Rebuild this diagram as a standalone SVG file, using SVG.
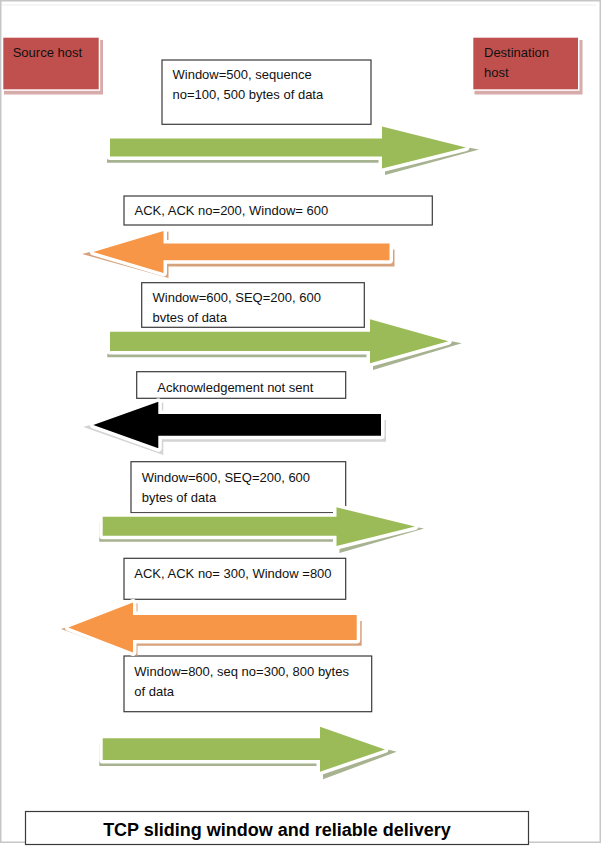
<svg xmlns="http://www.w3.org/2000/svg" width="602" height="846" viewBox="0 0 602 846">
<style>
.t{font-family:"Liberation Sans",Arial,sans-serif;font-size:13px;fill:#111}
.title{font-family:"Liberation Sans",Arial,sans-serif;font-size:18px;font-weight:bold;fill:#000}
.box{fill:#fff;stroke:#3a3a3a;stroke-width:1.2}
.host{fill:#c0504d;stroke:#fff;stroke-width:3;paint-order:stroke}
.hostsh{fill:#d6abaa}
.g{fill:#9bbb59;stroke:#fff;stroke-width:7;paint-order:stroke;stroke-linejoin:round}
.gsh{fill:#a6b290}
.o{fill:#f79646;stroke:#fff;stroke-width:7;paint-order:stroke;stroke-linejoin:round}
.osh{fill:#d6a27c}
.k{fill:#000;stroke:#fff;stroke-width:7;paint-order:stroke;stroke-linejoin:round}
.ksh{fill:#d4d4d4}
</style>
<rect width="602" height="846" fill="#fff"/>
<rect x="0.75" y="0.75" width="599.5" height="841.5" fill="none" stroke="#c6c6c6" stroke-width="1.5"/>
<line x1="1.5" y1="5" x2="596" y2="5" stroke="#ededed" stroke-width="1"/>

<g id="source-host">
<rect class="hostsh" x="4" y="40" width="99" height="54.5"/>
<rect class="host" x="3.3" y="37.7" width="95.4" height="51.6"/>
<text class="t" x="12.7" y="56.5">Source host</text>
</g>
<g id="destination-host">
<rect class="hostsh" x="474.5" y="40" width="108" height="54.5"/>
<rect class="host" x="473.3" y="37.7" width="104.7" height="51.6"/>
<text class="t" x="484" y="56.5">Destination</text>
<text class="t" x="484" y="76.5">host</text>
</g>

<g id="label-1">
<rect class="box" x="162" y="60" width="209" height="64.3"/>
<text class="t" x="172.5" y="79.3">Window=500, sequence</text>
<text class="t" x="172.5" y="99.3">no=100, 500 bytes of data</text>
</g>
<g id="label-2">
<rect class="box" x="124" y="196" width="308.3" height="29"/>
<text class="t" x="134.5" y="215">ACK, ACK no=200, Window= 600</text>
</g>
<g id="label-3">
<rect class="box" x="141.7" y="282.7" width="222.6" height="44.6"/>
<text class="t" x="152.5" y="302.2">Window=600, SEQ=200, 600</text>
<text class="t" x="152.5" y="322.2">bvtes of data</text>
</g>
<g id="label-4">
<rect class="box" x="136.7" y="371.7" width="209" height="26.6"/>
<text class="t" x="157.3" y="391.5">Acknowledgement not sent</text>
</g>
<g id="label-5">
<rect class="box" x="131" y="461.7" width="214.7" height="51"/>
<text class="t" x="141.7" y="481.6">Window=600, SEQ=200, 600</text>
<text class="t" x="141.7" y="501.6">bytes of data</text>
</g>
<g id="label-6">
<rect class="box" x="124" y="558.3" width="221.7" height="41"/>
<text class="t" x="134.3" y="578">ACK, ACK no= 300, Window =800</text>
</g>
<g id="label-7">
<rect class="box" x="124" y="656" width="247.7" height="55.7"/>
<text class="t" x="134.3" y="675.8">Window=800, seq no=300, 800 bytes</text>
<text class="t" x="134.3" y="695.6">of data</text>
</g>
<g id="title">
<rect class="box" x="25.5" y="811.5" width="503" height="33"/>
<text class="title" x="277" y="836" text-anchor="middle">TCP sliding window and reliable delivery</text>
</g>

<g id="connectors">
<g id="arrow-1">
<polygon class="gsh" points="107,144.5 385,144.5 385,132.5 479,149.5 385,175 385,162.8 107,162.8"/>
<polygon class="g" points="110,138.4 382,138.4 382,126.5 466,147.5 382,168.5 382,156.6 110,156.6"/>
</g>
<g id="arrow-2">
<polygon class="osh" points="394.5,249.5 168.5,249.5 168.5,231.5 82,254 168.5,278 168.5,266.5 394.5,266.5"/>
<polygon class="o" points="389.5,243.5 163.5,243.5 163.5,231 93.3,252 163.5,273 163.5,260.3 389.5,260.3"/>
</g>
<g id="arrow-3">
<polygon class="gsh" points="107.3,337.7 373,337.7 373,325.3 461.7,343.3 373,370 373,357.3 107.3,357.3"/>
<polygon class="g" points="110,331.7 370,331.7 370,319.3 448.3,341.3 370,363.3 370,351 110,351"/>
</g>
<g id="arrow-4">
<polygon class="ksh" points="386,420 163.3,420 163.3,402.5 83.3,427 163.3,455 163.3,441.7 386,441.7"/>
<polygon class="k" points="381,414 158.3,414 158.3,401.7 93.3,425 158.3,448.3 158.3,435.7 381,435.7"/>
</g>
<g id="arrow-5">
<polygon class="gsh" points="99.3,522.7 339.5,522.7 339.5,513.3 424,528.5 339.5,553 339.5,541.7 99.3,541.7"/>
<polygon class="g" points="102.7,516.7 336.5,516.7 336.5,507.3 415,526.5 336.5,546 336.5,535.7 102.7,535.7"/>
</g>
<g id="arrow-6">
<polygon class="osh" points="361.7,621 137.5,621 137.5,603 61,629 137.5,656 137.5,645.7 361.7,645.7"/>
<polygon class="o" points="356.7,615 133,615 133,602.5 68.3,627.5 133,652.5 133,640 356.7,640"/>
</g>
<g id="arrow-7">
<polygon class="gsh" points="99.3,744.3 323,744.3 323,732.7 396.7,751.7 323,779.3 323,766 99.3,766"/>
<polygon class="g" points="102.7,738.3 320,738.3 320,726.7 385,749.5 320,771.7 320,760 102.7,760"/>
</g>
</g>
</svg>
